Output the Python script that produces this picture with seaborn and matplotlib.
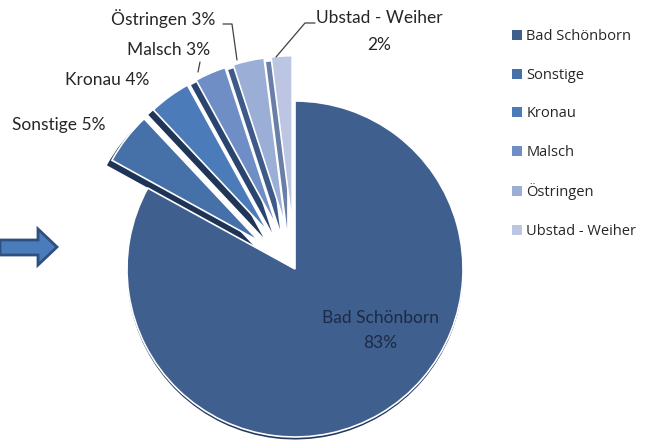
import matplotlib
matplotlib.use("Agg")
import matplotlib.pyplot as plt
from matplotlib.patches import Polygon, Wedge
import seaborn as sns

categories = ["Bad Schönborn", "Sonstige", "Kronau", "Malsch", "Östringen", "Ubstad - Weiher"]
shares = [83, 5, 4, 3, 3, 2]
colors = ["#3F5F8E", "#4570A8", "#4C7BBA", "#6F8EC6", "#9AAED6", "#BCC6E2"]
shadow_colors = ["#23395C", "#1E3457", "#1F3659", "#2A4470", "#3E5A8A", "#6A7FA8"]
explode = [0, 0.27, 0.27, 0.27, 0.27, 0.27]

sns.set_theme(style="white")
plt.rcParams["font.family"] = ["Lato", "DejaVu Sans"]

W, H = 653, 441
CX, CY, R = 295, 269, 168
fig = plt.figure(figsize=(W / 100, H / 100), dpi=100)
ax = fig.add_axes([0, 0, 1, 1])

def P(px, py):
    return ((px - CX) / R, (CY - py) / R)

wedges, _ = ax.pie(shares, colors=colors, explode=explode, startangle=90,
                   counterclock=False, radius=1,
                   wedgeprops=dict(edgecolor="white", linewidth=1.2))

# dark side (3D-like thickness) under each wedge
for i, w in enumerate(wedges):
    w.set_zorder(3)
    dx, dy = (0, -0.015) if i == 0 else (-0.03, -0.03)
    cx, cy = w.center
    sh = Wedge((cx + dx, cy + dy), w.r, w.theta1, w.theta2,
               facecolor=shadow_colors[i], edgecolor="none", zorder=2)
    ax.add_patch(sh)

ax.set_xlim(P(0, 0)[0], P(W, 0)[0])
ax.set_ylim(P(0, H)[1], P(0, 0)[1])
ax.set_aspect("auto")
ax.axis("off")

fs = 12.5
def label(px, py, s, color="#262626"):
    x, y = P(px, py)
    ax.text(x, y, s, ha="center", va="center", fontsize=fs, color=color, zorder=5)

label(163, 19, f"{categories[4]} {shares[4]}%")
label(169, 50, f"{categories[3]} {shares[3]}%")
label(107, 80, f"{categories[2]} {shares[2]}%")
label(59, 125, f"{categories[1]} {shares[1]}%")
label(379, 18, categories[5])
label(379, 45, f"{shares[5]}%")
label(380, 318, categories[0], color="#1C2B45")
label(380, 343, f"{shares[0]}%", color="#1C2B45")

def leader(points):
    xs, ys = zip(*[P(a, b) for a, b in points])
    ax.plot(xs, ys, color="#404040", lw=0.9, zorder=4)

leader([(223, 24), (232, 24), (237, 60)])
leader([(200, 62), (198, 72)])
leader([(315, 23), (305, 23), (276, 57)])

# arrow on the left
arrow = Polygon([(0, H - 240), (38, H - 240), (38, H - 229), (57, H - 247), (38, H - 265),
                 (38, H - 255), (0, H - 255)],
                closed=True, facecolor="#4A7BBB", edgecolor="#2F507F", lw=2,
                transform=None)
fig.patches.append(arrow)

leg = ax.legend(wedges, categories, loc="upper left",
                bbox_to_anchor=(512 / W, 1 - 29 / H), bbox_transform=fig.transFigure,
                frameon=False, prop={"family": "Open Sans", "size": 10.5},
                labelspacing=1.62, handlelength=0.68,
                handleheight=0.68, handletextpad=0.3, borderpad=0, borderaxespad=0)
for t in leg.get_texts():
    t.set_color("#262626")
for h in leg.legend_handles:
    h.set_edgecolor("none")

fig.savefig("out.png", dpi=100)
